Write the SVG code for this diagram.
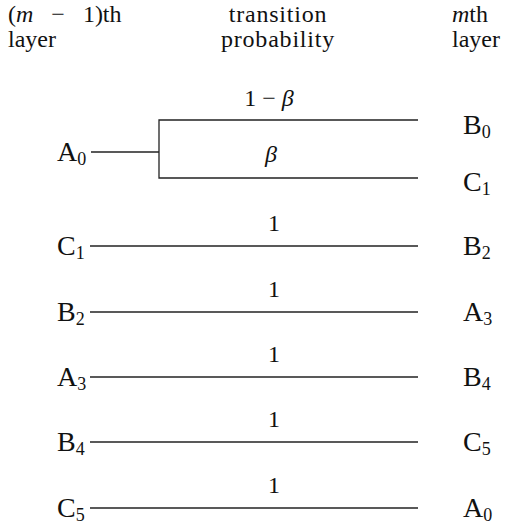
<svg xmlns="http://www.w3.org/2000/svg" width="505" height="525" viewBox="0 0 505 525">
<style>
text{font-family:"Liberation Serif","Times New Roman",serif;fill:#111;}
.h{font-size:24px;}
.n{font-size:28px;}
.s{font-size:18px;}
.p{font-size:24px;text-anchor:middle;}
.c line,.c path{stroke:#222;stroke-width:1.3;fill:none;}
</style>
<rect width="505" height="525" fill="#fff"/>
<g id="header">
<text class="h" x="8" y="22" xml:space="preserve">(<tspan font-style="italic">m</tspan>   −   1)th</text>
<text class="h" x="8" y="47">layer</text>
<text class="h" x="278" y="22" text-anchor="middle" letter-spacing="0.8">transition</text>
<text class="h" x="278" y="47" text-anchor="middle" letter-spacing="0.8">probability</text>
<text class="h" x="452" y="22"><tspan font-style="italic">m</tspan>th</text>
<text class="h" x="452" y="47">layer</text>
</g>
<g class="c" id="connectors">
<line x1="91" y1="152" x2="159" y2="152"/>
<path d="M418 120H159V178H418"/>
<line x1="90" y1="246" x2="418" y2="246"/>
<line x1="90" y1="312" x2="418" y2="312"/>
<line x1="90" y1="377" x2="418" y2="377"/>
<line x1="90" y1="442" x2="418" y2="442"/>
<line x1="90" y1="508" x2="418" y2="508"/>
</g>
<g id="probs">
<text class="p" x="269" y="106">1 − <tspan font-style="italic">β</tspan></text>
<text class="p" x="271" y="162" font-style="italic">β</text>
<text class="p" x="274" y="231">1</text>
<text class="p" x="274" y="297">1</text>
<text class="p" x="274" y="362">1</text>
<text class="p" x="274" y="427">1</text>
<text class="p" x="274" y="493">1</text>
</g>
<g id="left">
<g id="L-A0"><text class="n" x="57" y="161">A<tspan class="s" dy="4">0</tspan></text></g>
<g id="L-C1"><text class="n" x="57" y="255">C<tspan class="s" dy="4">1</tspan></text></g>
<g id="L-B2"><text class="n" x="57" y="321">B<tspan class="s" dy="4">2</tspan></text></g>
<g id="L-A3"><text class="n" x="57" y="386">A<tspan class="s" dy="4">3</tspan></text></g>
<g id="L-B4"><text class="n" x="57" y="451">B<tspan class="s" dy="4">4</tspan></text></g>
<g id="L-C5"><text class="n" x="57" y="517">C<tspan class="s" dy="4">5</tspan></text></g>
</g>
<g id="right">
<g id="R-B0"><text class="n" x="463" y="134">B<tspan class="s" dy="4">0</tspan></text></g>
<g id="R-C1"><text class="n" x="463" y="191">C<tspan class="s" dy="4">1</tspan></text></g>
<g id="R-B2"><text class="n" x="463" y="255">B<tspan class="s" dy="4">2</tspan></text></g>
<g id="R-A3"><text class="n" x="463" y="321">A<tspan class="s" dy="4">3</tspan></text></g>
<g id="R-B4"><text class="n" x="463" y="386">B<tspan class="s" dy="4">4</tspan></text></g>
<g id="R-C5"><text class="n" x="463" y="451">C<tspan class="s" dy="4">5</tspan></text></g>
<g id="R-A0"><text class="n" x="463" y="517">A<tspan class="s" dy="4">0</tspan></text></g>
</g>
</svg>
